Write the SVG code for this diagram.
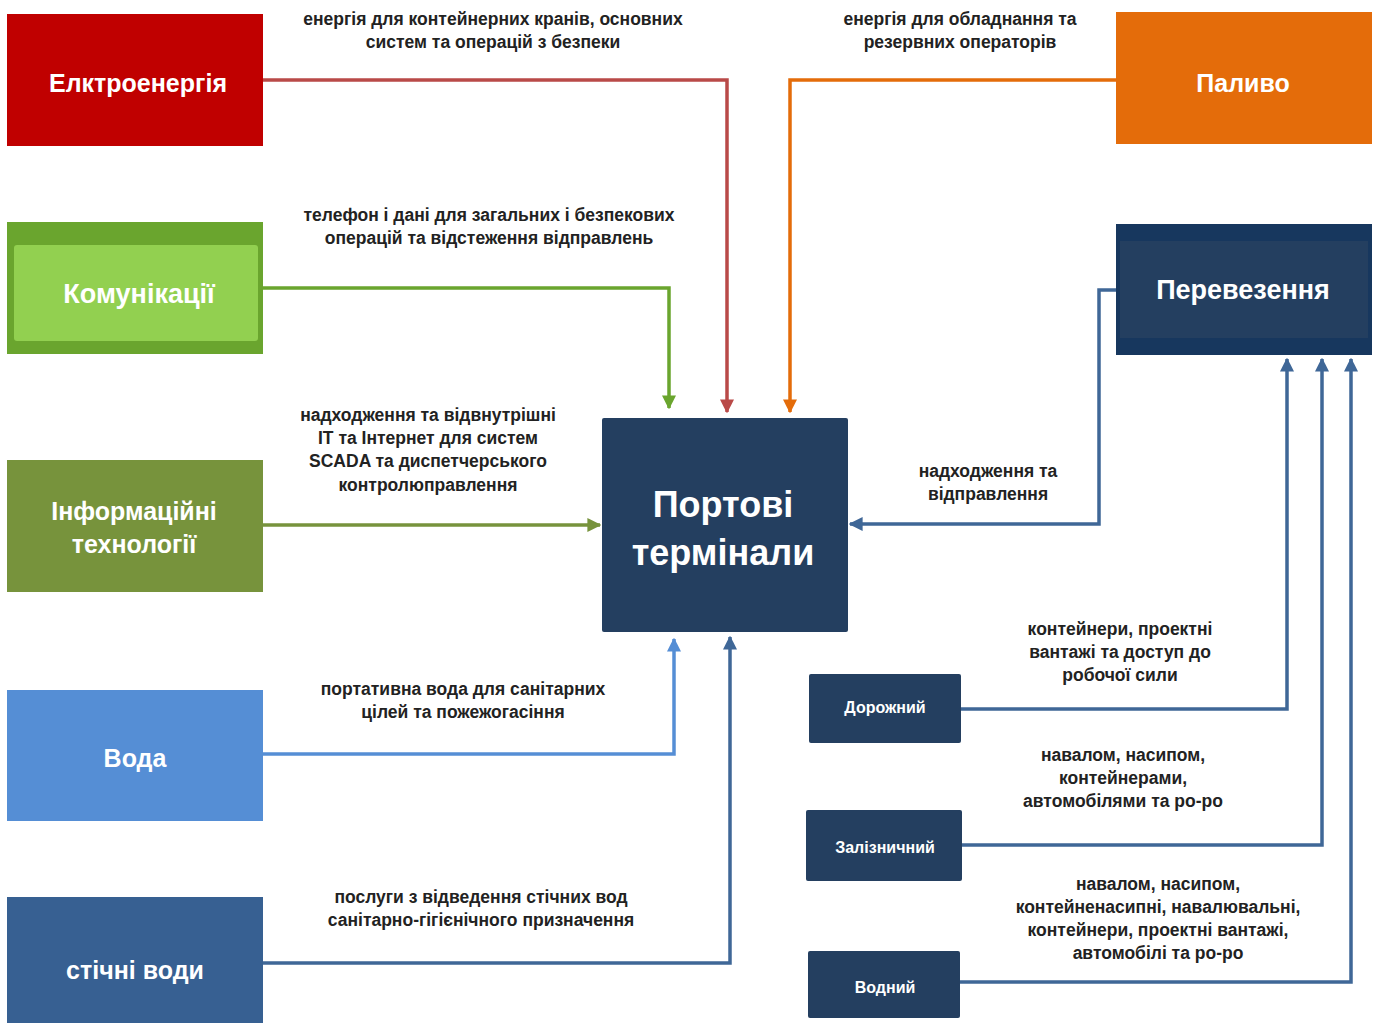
<svg xmlns="http://www.w3.org/2000/svg" width="1375" height="1023" viewBox="0 0 1375 1023">
<defs>
<style>
.title{font-family:"Liberation Sans",Arial,sans-serif;font-weight:bold;fill:#ffffff;text-anchor:middle;dominant-baseline:central}
.lbl{font-family:"Liberation Sans",Arial,sans-serif;font-size:17.5px;font-weight:bold;fill:#222222;text-anchor:middle;dominant-baseline:central}
.ln{fill:none;stroke-width:3.5}
</style>
<marker id="aRed" viewBox="0 0 10 10" refX="9" refY="5" markerWidth="4" markerHeight="4" orient="auto"><path d="M0,0 L10,5 L0,10 Z" fill="#b94a48"/></marker>
<marker id="aGreen" viewBox="0 0 10 10" refX="9" refY="5" markerWidth="4" markerHeight="4" orient="auto"><path d="M0,0 L10,5 L0,10 Z" fill="#6aa52e"/></marker>
<marker id="aOlive" viewBox="0 0 10 10" refX="9" refY="5" markerWidth="4" markerHeight="4" orient="auto"><path d="M0,0 L10,5 L0,10 Z" fill="#77933c"/></marker>
<marker id="aOrange" viewBox="0 0 10 10" refX="9" refY="5" markerWidth="4" markerHeight="4" orient="auto"><path d="M0,0 L10,5 L0,10 Z" fill="#e46c0a"/></marker>
<marker id="aLBlue" viewBox="0 0 10 10" refX="9" refY="5" markerWidth="4" markerHeight="4" orient="auto"><path d="M0,0 L10,5 L0,10 Z" fill="#558ed5"/></marker>
<marker id="aBlue" viewBox="0 0 10 10" refX="9" refY="5" markerWidth="4" markerHeight="4" orient="auto"><path d="M0,0 L10,5 L0,10 Z" fill="#3f6797"/></marker>
</defs>
<rect width="1375" height="1023" fill="#ffffff"/>

<g id="connectors">
<path class="ln" stroke="#b94a48" d="M263,80 H727 V412" marker-end="url(#aRed)"/>
<path class="ln" stroke="#6aa52e" d="M263,288 H669 V408" marker-end="url(#aGreen)"/>
<path class="ln" stroke="#77933c" d="M263,525 H600" marker-end="url(#aOlive)"/>
<path class="ln" stroke="#e46c0a" d="M1116,80 H790 V412" marker-end="url(#aOrange)"/>
<path class="ln" stroke="#558ed5" d="M263,754 H674 V639" marker-end="url(#aLBlue)"/>
<path class="ln" stroke="#3f6797" d="M263,963 H730 V637" marker-end="url(#aBlue)"/>
<path class="ln" stroke="#3f6797" d="M1116,290 H1099 V524 H850" marker-end="url(#aBlue)"/>
<path class="ln" stroke="#3f6797" d="M961,709 H1287 V359" marker-end="url(#aBlue)"/>
<path class="ln" stroke="#3f6797" d="M962,845 H1322 V359" marker-end="url(#aBlue)"/>
<path class="ln" stroke="#3f6797" d="M960,982 H1351 V359" marker-end="url(#aBlue)"/>
</g>

<g id="labels">
<text class="lbl" x="493" y="19">енергія для контейнерних кранів, основних</text>
<text class="lbl" x="493" y="42">систем та операцій з безпеки</text>
<text class="lbl" x="960" y="19">енергія для обладнання та</text>
<text class="lbl" x="960" y="42">резервних операторів</text>
<text class="lbl" x="489" y="215">телефон і дані для загальних і безпекових</text>
<text class="lbl" x="489" y="238">операцій та відстеження відправлень</text>
<text class="lbl" x="428" y="415">надходження та відвнутрішні</text>
<text class="lbl" x="428" y="438">IT та Інтернет для систем</text>
<text class="lbl" x="428" y="461">SCADA та диспетчерського</text>
<text class="lbl" x="428" y="485">контролюправлення</text>
<text class="lbl" x="988" y="471">надходження та</text>
<text class="lbl" x="988" y="494">відправлення</text>
<text class="lbl" x="463" y="689">портативна вода для санітарних</text>
<text class="lbl" x="463" y="712">цілей та пожежогасіння</text>
<text class="lbl" x="481" y="897">послуги з відведення стічних вод</text>
<text class="lbl" x="481" y="920">санітарно-гігієнічного призначення</text>
<text class="lbl" x="1120" y="629">контейнери, проектні</text>
<text class="lbl" x="1120" y="652">вантажі та доступ до</text>
<text class="lbl" x="1120" y="675">робочої сили</text>
<text class="lbl" x="1123" y="755">навалом, насипом,</text>
<text class="lbl" x="1123" y="778">контейнерами,</text>
<text class="lbl" x="1123" y="801">автомобілями та ро-ро</text>
<text class="lbl" x="1158" y="884">навалом, насипом,</text>
<text class="lbl" x="1158" y="907">контейненасипні, навалювальні,</text>
<text class="lbl" x="1158" y="930">контейнери, проектні вантажі,</text>
<text class="lbl" x="1158" y="953">автомобілі та ро-ро</text>
</g>

<g id="electricity">
<rect x="7" y="14" width="256" height="132" fill="#c00000"/>
<text class="title" x="138" y="83" font-size="25">Елктроенергія</text>
</g>
<g id="communications">
<rect x="7" y="222" width="256" height="132" fill="#6aa52e"/>
<rect x="14" y="245" width="244" height="96" rx="3" fill="#92d050"/>
<text class="title" x="139" y="294" font-size="27">Комунікації</text>
</g>
<g id="it">
<rect x="7" y="460" width="256" height="132" fill="#77933c"/>
<text class="title" x="134" y="511" font-size="25">Інформаційні</text>
<text class="title" x="134" y="544" font-size="25">технології</text>
</g>
<g id="water">
<rect x="7" y="690" width="256" height="131" fill="#558ed5"/>
<text class="title" x="135" y="758" font-size="25">Вода</text>
</g>
<g id="wastewater">
<rect x="7" y="897" width="256" height="126" fill="#376092"/>
<text class="title" x="135" y="970" font-size="25">стічні води</text>
</g>
<g id="terminals">
<rect x="602" y="418" width="246" height="214" rx="2" fill="#243f60"/>
<text class="title" x="723" y="504" font-size="36">Портові</text>
<text class="title" x="723" y="552" font-size="36">термінали</text>
</g>
<g id="fuel">
<rect x="1116" y="12" width="256" height="132" fill="#e46c0a"/>
<text class="title" x="1243" y="83" font-size="25">Паливо</text>
</g>
<g id="transport">
<rect x="1116" y="224" width="256" height="131" fill="#17375e"/>
<rect x="1120" y="241" width="248" height="97" fill="#243f60"/>
<text class="title" x="1243" y="290" font-size="27">Перевезення</text>
</g>
<g id="road">
<rect x="809" y="674" width="152" height="69" rx="2" fill="#243f60"/>
<text class="title" x="885" y="707" font-size="16">Дорожний</text>
</g>
<g id="rail">
<rect x="806" y="810" width="156" height="71" rx="2" fill="#243f60"/>
<text class="title" x="885" y="847" font-size="16">Залізничний</text>
</g>
<g id="waterway">
<rect x="808" y="951" width="152" height="67" rx="2" fill="#243f60"/>
<text class="title" x="885" y="987" font-size="16">Водний</text>
</g>
</svg>
